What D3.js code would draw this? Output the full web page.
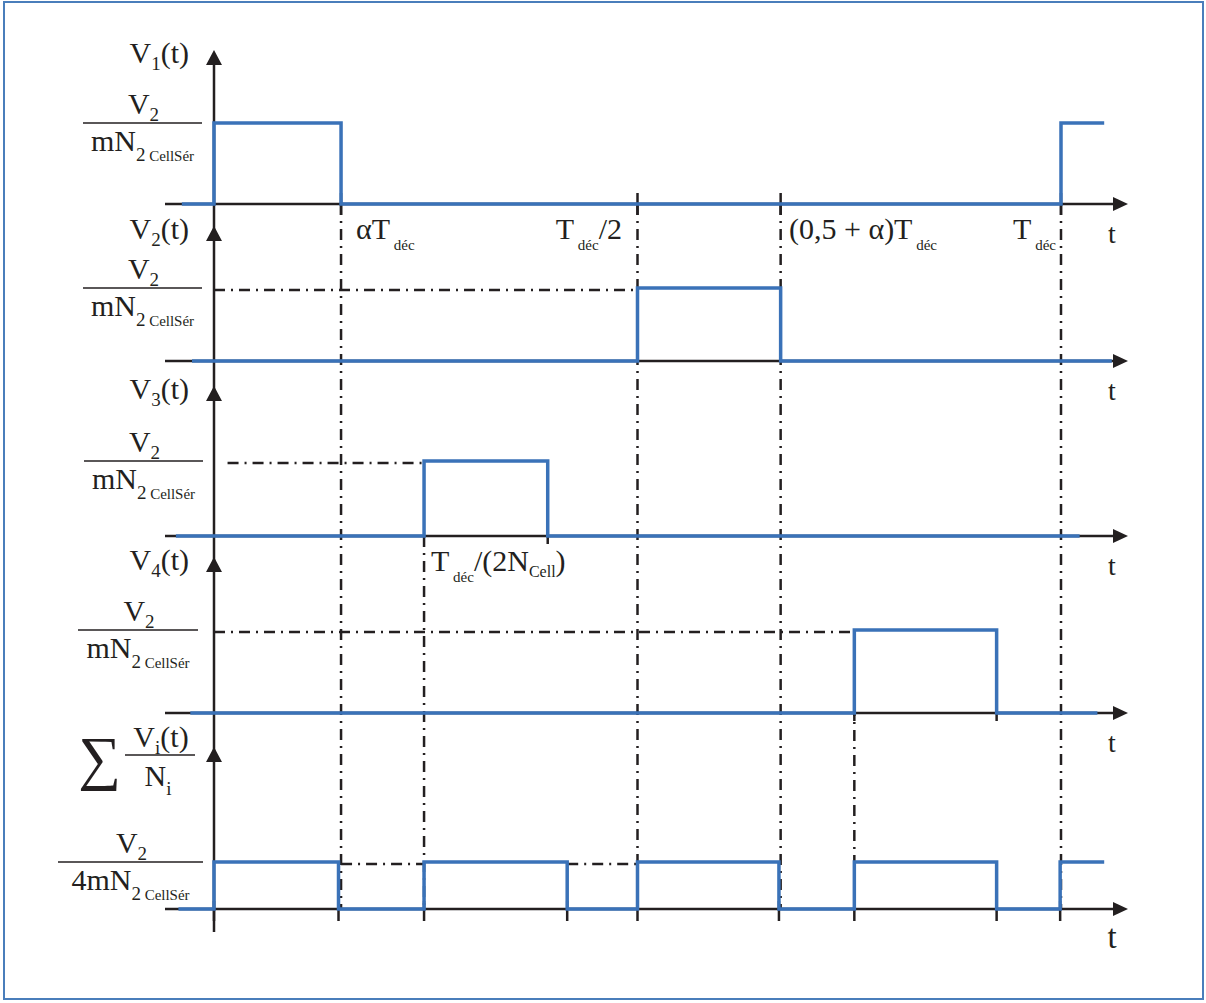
<!DOCTYPE html>
<html>
<head>
<meta charset="utf-8">
<script src="https://cdn.jsdelivr.net/npm/d3@7"></script>
<style>
  body { margin: 0; background: #fff; }
  svg text { font-family: "Liberation Serif", "DejaVu Serif", serif; fill: #231f20; }
</style>
</head>
<body>
<svg width="1206" height="1003"></svg>
<script>
// time is in units of T_déc, levels are 0 (low) / 1 (high)
var v1 = [[-0.038, 0], [0, 1], [0.15, 0], [1.0, 1], [1.051, 1]];
var v2 = [[-0.026, 0], [0.5, 1], [0.669, 0], [1.06, 0]];
var v3 = [[-0.045, 0], [0.248, 1], [0.394, 0], [1.022, 0]];
var v4 = [[-0.028, 0], [0.756, 1], [0.924, 0], [1.043, 0]];
var vSum = [[-0.042, 0], [0, 1], [0.147, 0], [0.248, 1], [0.417, 0], [0.5, 1],
            [0.667, 0], [0.756, 1], [0.924, 0], [0.999, 1], [1.051, 1]];
var series = [v1, v2, v3, v4, vSum];

// vertical dash-dot markers: time, panel where it starts
var markers = [[0.15, 0], [0.5, 0], [0.669, 0], [1.0, 0], [0.248, 2], [0.756, 3]];
// small solid ticks on the sum axis
var sumTicks = [0, 0.147, 0.248, 0.417, 0.5, 0.667, 0.756, 0.924, 0.999];
// horizontal dash-dot references: panel, from, to
var refs = [[1, 0, 0.5], [2, 0.016, 0.248], [3, 0, 0.756], [4, 0.15, 0.248], [4, 0.417, 0.5]];

// layout
var base = [204, 361, 536, 713, 909];
var high = [123, 288, 461, 630, 862];
var arrowTop = [50, 226, 386, 557, 747];
var blue = "#3a72b8", ink = "#231f20";

var svg = d3.select("svg");
var x = d3.scaleLinear().domain([0, 1]).range([214, 1061]);
var yScales = base.map(function(b, i) {
  return d3.scaleLinear().domain([0, 1]).range([b, high[i]]);
});

// frame
svg.append("rect").attr("x", 4).attr("y", 2).attr("width", 1199).attr("height", 997)
  .attr("fill", "none").attr("stroke", "#4a7ebb").attr("stroke-width", 2);

// label helper: parts = [text, size, dy]
var mtext = function(px, py, parts, anchor) {
  var t = svg.append("text").attr("x", px).attr("y", py)
    .attr("text-anchor", anchor || "start");
  var shift = 0;
  parts.forEach(function(p) {
    var dy = (p[2] || 0) - shift;
    shift = p[2] || 0;
    t.append("tspan").attr("dy", dy).attr("font-size", p[1] || 30).text(p[0]);
  });
  return t;
};

var dashDot = "11,6,2,6";

// horizontal reference lines
refs.forEach(function(r) {
  var yy = yScales[r[0]](1) + 2;
  svg.append("line").attr("x1", x(r[1])).attr("x2", x(r[2]))
    .attr("y1", yy).attr("y2", yy)
    .attr("stroke", ink).attr("stroke-width", 2.5).attr("stroke-dasharray", dashDot);
});

// vertical reference lines
markers.forEach(function(m) {
  var y0 = m[1] == 0 ? base[0] : (m[1] == 3 ? high[3] : base[m[1]]);
  svg.append("line").attr("x1", x(m[0])).attr("x2", x(m[0]))
    .attr("y1", y0).attr("y2", base[4])
    .attr("stroke", ink).attr("stroke-width", 2.5).attr("stroke-dasharray", dashDot);
  if (m[1] == 0) {
    svg.append("line").attr("x1", x(m[0])).attr("x2", x(m[0]))
      .attr("y1", 193).attr("y2", 215).attr("stroke", ink).attr("stroke-width", 2.5);
  }
});

sumTicks.forEach(function(t) {
  svg.append("line").attr("x1", x(t)).attr("x2", x(t))
    .attr("y1", 901).attr("y2", 921).attr("stroke", ink).attr("stroke-width", 2.5);
});
// small ticks at pulse ends
[[2, 0.394], [3, 0.924], [3, 0.756]].forEach(function(k) {
  svg.append("line").attr("x1", x(k[1])).attr("x2", x(k[1]))
    .attr("y1", base[k[0]] - 4).attr("y2", base[k[0]] + 8)
    .attr("stroke", ink).attr("stroke-width", 2.5);
});

// time axes with arrows
base.forEach(function(b) {
  svg.append("line").attr("x1", 165).attr("x2", 1115).attr("y1", b).attr("y2", b)
    .attr("stroke", ink).attr("stroke-width", 2.5);
  svg.append("path").attr("d", "M1113," + (b - 7) + "L1128," + b + "L1113," + (b + 7) + "Z")
    .attr("fill", ink);
});

// vertical axis with arrows
svg.append("line").attr("x1", x(0)).attr("x2", x(0)).attr("y1", 55).attr("y2", 932)
  .attr("stroke", ink).attr("stroke-width", 2.5);
arrowTop.forEach(function(a) {
  svg.append("path").attr("d", "M" + (x(0) - 8) + "," + (a + 15) + "L" + x(0) + "," + a + "L" + (x(0) + 8) + "," + (a + 15) + "Z")
    .attr("fill", ink);
});

// signals
series.forEach(function(s, i) {
  var line = d3.line()
    .x(function(d) { return x(d[0]); })
    .y(function(d) { return yScales[i](d[1]); })
    .curve(d3.curveStepAfter);
  svg.append("path").attr("d", line(s)).attr("fill", "none")
    .attr("stroke", blue).attr("stroke-width", 3.5);
});

// axis names
["1", "2", "3", "4"].forEach(function(n, i) {
  mtext(189, arrowTop[i] + 13, [["V"], [n, 19, 7], ["(t)"]], "end");
});

// level fractions
var fracL = [83, 83, 84, 78, 58], fracR = [202, 202, 203, 198, 203];
high.forEach(function(h, i) {
  var ly = h;
  var cx = (fracL[i] + fracR[i]) / 2;
  svg.append("line").attr("x1", fracL[i]).attr("x2", fracR[i]).attr("y1", ly).attr("y2", ly)
    .attr("stroke", ink).attr("stroke-width", 1.6);
  mtext(cx + 1, ly - 9, [["V"], ["2", 19, 7]], "middle");
  mtext(cx, ly + 28, [[i == 4 ? "4mN" : "mN"], ["2", 19, 10], [" CellSér", 15, 10]], "middle");
});

// sum label
mtext(78, 778, [["\u2211", 60]]);
svg.append("line").attr("x1", 125).attr("x2", 195).attr("y1", 755).attr("y2", 755)
  .attr("stroke", ink).attr("stroke-width", 1.6);
mtext(161, 747, [["V"], ["i", 19, 7], ["(t)"]], "middle");
mtext(158, 786, [["N"], ["i", 19, 9]], "middle");

// time labels
mtext(356, 239, [["\u03b1T"], ["  déc", 15, 11]]);
mtext(622, 239, [["T"], [" déc", 15, 11], ["/2"]], "end");
mtext(789, 239, [["(0,5 + \u03b1)T"], ["  déc", 15, 11]]);
mtext(1056, 239, [["T"], ["  déc", 15, 11]], "end");
mtext(431, 571, [["T"], [" déc", 15, 11], ["/(2N"], ["Cell", 16, 6], [")"]]);

// t labels
base.forEach(function(b, i) {
  mtext(1112, b + 39, [["t", i == 4 ? 33 : 28]], "middle");
});
</script>
</body>
</html>
